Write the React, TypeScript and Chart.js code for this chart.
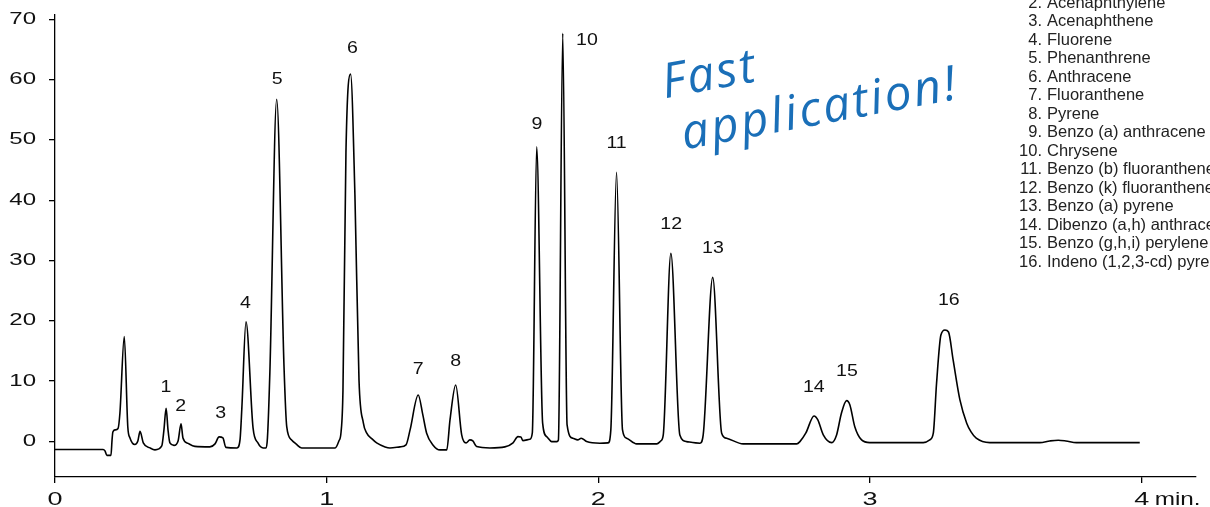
import React, { useEffect, useRef } from "react";
import { Chart, registerables } from "chart.js";

Chart.register(...registerables);

// Retention time (min) and detector signal
const times = [
  0, 0.177, 0.184, 0.191, 0.206, 0.210, 0.213, 0.221, 0.232, 0.239,
  0.255, 0.268, 0.276, 0.294, 0.305, 0.313, 0.325, 0.350, 0.368, 0.393,
  0.401, 0.409, 0.416, 0.423, 0.438, 0.453, 0.464, 0.471, 0.490, 0.515,
  0.570, 0.589, 0.604, 0.618, 0.629, 0.670, 0.681, 0.688, 0.703, 0.729,
  0.747, 0.766, 0.777, 0.782, 0.791, 0.816, 0.843, 0.853, 0.871, 0.887,
  0.908, 1.031, 1.045, 1.053, 1.060, 1.071, 1.088, 1.104, 1.119, 1.135,
  1.147, 1.167, 1.184, 1.215, 1.233, 1.270, 1.292, 1.307, 1.337, 1.354,
  1.368, 1.391, 1.417, 1.442, 1.454, 1.475, 1.497, 1.513, 1.527, 1.538,
  1.552, 1.601, 1.656, 1.686, 1.704, 1.715, 1.722, 1.748, 1.757, 1.773,
  1.795, 1.810, 1.828, 1.847, 1.853, 1.869, 1.885, 1.906, 1.924, 1.937,
  1.957, 2.006, 2.036, 2.046, 2.067, 2.089, 2.104, 2.141, 2.215, 2.230,
  2.239, 2.267, 2.300, 2.325, 2.374, 2.386, 2.421, 2.454, 2.472, 2.533,
  2.730, 2.742, 2.764, 2.794, 2.808, 2.828, 2.859, 2.877, 2.895, 2.914,
  2.926, 2.944, 2.969, 2.999, 3.196, 3.220, 3.233, 3.245, 3.261, 3.276,
  3.289, 3.306, 3.331, 3.356, 3.372, 3.391, 3.441, 3.625, 3.662, 3.693,
  3.721, 3.760, 3.993,
];

const signal = [
  -1.33, -1.33, -1.57, -2.32, -2.32, 0.25, 1.57, 1.91, 2.15, 4.72,
  17.40, 2.40, 0.58, -0.50, 0.08, 1.66, -0.25, -1.08, -1.41, -0.75,
  1.91, 5.50, 1.91, -0.25, -0.66, 0.08, 2.90, 0.58, -0.33, -0.83,
  -0.91, -0.41, 0.75, 0.58, -0.99, -1.08, 0.25, 5.72, 19.85, 2.24,
  -0.25, -1.08, -1.08, 0.58, 11.56, 56.74, 12.39, 2.45, 0.25, -0.41,
  -1.08, -1.08, 0.08, 1.57, 8.5, 47.96, 60.89, 40.84, 10.19, 3.07,
  1.41, 0.41, -0.25, -0.91, -1.08, -0.91, -0.58, 1.91, 7.70, 4.39,
  1.36, -0.58, -1.41, -1.41, 3.56, 9.36, 1.08, -0.25, 0.25, 0.08,
  -0.86, -1.08, -0.91, -0.25, 0.80, 0.75, 0.13, 0.36, 1.41, 48.84,
  3.02, 0.80, -0.03, -0.03, 0.25, 67.68, 2.73, 0.53, 0.25, 0.53,
  -0.03, -0.30, -0.25, 1.91, 44.60, 1.91, 0.53, -0.41, -0.41, 0.08,
  1.08, 31.18, 1.08, -0.03, -0.30, 1.08, 27.20, 1.36, 0.53, -0.41,
  -0.41, -0.03, 1.41, 4.22, 3.56, 1.08, -0.20, 1.08, 4.72, 6.76,
  6.05, 2.45, 0.25, -0.20, -0.20, 0.25, 1.36, 9.64, 17.64, 18.47,
  18.14, 13.50, 6.88, 3.02, 1.57, 0.53, -0.20, -0.20, 0.08, 0.20,
  0.08, -0.20, -0.20,
];

// Peak number labels (placed in data coordinates)
const peakNumbers = ["1", "2", "3", "4", "5", "6", "7", "8", "9", "10", "11", "12", "13", "14", "15", "16"];
const peakLabelTimes = [0.408, 0.463, 0.610, 0.701, 0.818, 1.095, 1.337, 1.475, 1.774, 1.958, 2.067, 2.268, 2.422, 2.793, 2.915, 3.290];
const peakLabelHeights = [8.95, 5.84, 4.72, 22.9, 60.09, 65.23, 11.9, 13.3, 52.65, 66.57, 49.45, 35.92, 32.05, 9.01, 11.68, 23.39];

const compounds = [
  "Naphthalene",
  "Acenaphthylene",
  "Acenaphthene",
  "Fluorene",
  "Phenanthrene",
  "Anthracene",
  "Fluoranthene",
  "Pyrene",
  "Benzo (a) anthracene",
  "Chrysene",
  "Benzo (b) fluoranthene",
  "Benzo (k) fluoranthene",
  "Benzo (a) pyrene",
  "Dibenzo (a,h) anthracene",
  "Benzo (g,h,i) perylene",
  "Indeno (1,2,3-cd) pyrene",
];

const xTickValues = [0, 1, 2, 3, 4];
const yTickValues = [0, 10, 20, 30, 40, 50, 60, 70];
const xUnit = "min.";
const calloutLines = ["Fast", "application!"];
const calloutAnchor = [2.245, 56.9];

const SANS = '"Liberation Sans", Arial, Helvetica, sans-serif';

const textPlugin = {
  id: "chromTexts",
  afterDraw(chart: any) {
    const ctx = chart.ctx as CanvasRenderingContext2D;
    const xs = chart.scales.x;
    const ys = chart.scales.y;
    const area = chart.chartArea;
    ctx.save();

    // Y tick labels (wide typeface look)
    ctx.fillStyle = "#111";
    ctx.font = `16px ${SANS}`;
    ctx.textAlign = "right";
    ctx.textBaseline = "middle";
    for (const v of yTickValues) {
      const py = ys.getPixelForValue(v);
      ctx.save();
      ctx.translate(area.left - 19, py);
      ctx.scale(1.5, 1);
      ctx.fillText(String(v), 0, 0);
      ctx.restore();
    }

    // X tick labels
    ctx.font = `18px ${SANS}`;
    ctx.textAlign = "center";
    ctx.textBaseline = "alphabetic";
    const xBase = area.bottom + 28;
    for (const v of xTickValues) {
      const px = xs.getPixelForValue(v);
      ctx.save();
      ctx.translate(px, xBase);
      ctx.scale(1.5, 1);
      ctx.fillText(String(v), 0, 0);
      ctx.restore();
    }
    // unit after last tick
    {
      const px = xs.getPixelForValue(xTickValues[xTickValues.length - 1]);
      ctx.save();
      ctx.translate(px + 13, xBase);
      ctx.scale(1.35, 1);
      ctx.textAlign = "left";
      ctx.fillText(xUnit, 0, 0);
      ctx.restore();
    }

    // Peak labels
    ctx.font = `17px ${SANS}`;
    ctx.textAlign = "center";
    ctx.textBaseline = "middle";
    peakNumbers.forEach((n, i) => {
      const px = xs.getPixelForValue(peakLabelTimes[i]);
      const py = ys.getPixelForValue(peakLabelHeights[i]);
      ctx.save();
      ctx.translate(px, py);
      ctx.scale(1.15, 1);
      ctx.fillText(n, 0, 0);
      ctx.restore();
    });

    // Compound list (top right)
    ctx.fillStyle = "#222";
    ctx.font = `16.5px ${SANS}`;
    ctx.textBaseline = "alphabetic";
    const numRight = chart.width - 168;
    const nameLeft = chart.width - 163;
    compounds.forEach((name, i) => {
      const y = -11 + i * 18.5;
      ctx.textAlign = "right";
      ctx.fillText(`${i + 1}.`, numRight, y);
      ctx.textAlign = "left";
      ctx.fillText(name, nameLeft, y);
    });

    // "Fast application!" callout
    const ax = xs.getPixelForValue(calloutAnchor[0]);
    const ay = ys.getPixelForValue(calloutAnchor[1]);
    ctx.translate(ax, ay);
    ctx.rotate((-10.5 * Math.PI) / 180);
    ctx.fillStyle = "#1a6fb8";
    ctx.font = `italic 48px "Open Sans", "DejaVu Sans", sans-serif`;
    (ctx as any).letterSpacing = "2.5px";
    ctx.textAlign = "left";
    ctx.fillText(calloutLines[0], 0, 0);
    ctx.fillText(calloutLines[1], 10, 54);
    (ctx as any).letterSpacing = "0px";

    ctx.restore();
  },
};

export default function App() {
  const canvasRef = useRef<HTMLCanvasElement | null>(null);

  useEffect(() => {
    const canvas = canvasRef.current;
    if (!canvas) return;
    const points = times.map((t, i) => ({ x: t, y: signal[i] }));
    const chart = new Chart(canvas, {
      type: "line",
      data: {
        datasets: [
          {
            data: points,
            borderColor: "#000",
            borderWidth: 1.6,
            pointRadius: 0,
            cubicInterpolationMode: "monotone",
            fill: false,
          },
        ],
      },
      options: {
        responsive: false,
        devicePixelRatio: 1,
        animation: false,
        parsing: false,
        layout: { padding: { left: 49, right: 14, top: 15, bottom: 24 } },
        plugins: { legend: { display: false }, tooltip: { enabled: false } },
        scales: {
          x: {
            type: "linear",
            min: 0,
            max: 4.2,
            afterBuildTicks: (s: any) => {
              s.ticks = xTickValues.map((v) => ({ value: v }));
            },
            ticks: { display: false },
            grid: {
              display: true,
              drawOnChartArea: false,
              drawTicks: true,
              tickLength: 6,
              color: "#000",
              lineWidth: 1.3,
            },
            border: { display: true, color: "#000", width: 1.3 },
          },
          y: {
            type: "linear",
            min: -5.9,
            max: 70.7,
            afterBuildTicks: (s: any) => {
              s.ticks = yTickValues.map((v) => ({ value: v }));
            },
            ticks: { display: false },
            grid: {
              display: true,
              drawOnChartArea: false,
              drawTicks: true,
              tickLength: 6,
              color: "#000",
              lineWidth: 1.3,
            },
            border: { display: true, color: "#000", width: 1.3 },
          },
        },
      },
      plugins: [textPlugin],
    } as any);
    return () => chart.destroy();
  }, []);

  return (
    <div style={{ position: "fixed", left: 0, top: 0, width: 1210, height: 507, background: "#fff" }}>
      <canvas ref={canvasRef} width={1210} height={507} style={{ display: "block" }} />
    </div>
  );
}
